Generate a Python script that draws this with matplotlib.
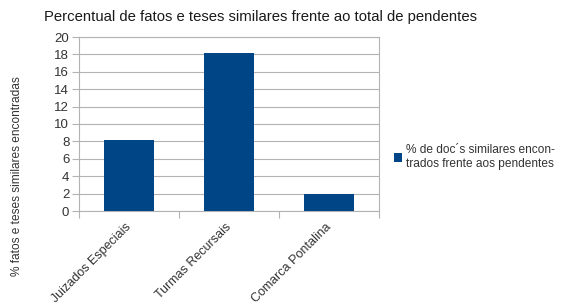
import matplotlib
matplotlib.use("Agg")
import matplotlib.pyplot as plt
import numpy as np

# dados
categorias = ["Juizados Especiais", "Turmas Recursais", "Comarca Pontalina"]
percentuais = [8.2, 18.2, 1.9]
serie_nome = "% de doc´s similares encon-\ntrados frente aos pendentes"
y_ticks = list(range(0, 21, 2))

plt.rcParams['font.family'] = ['Liberation Sans', 'DejaVu Sans']

fig = plt.figure(figsize=(5.71, 3.03), dpi=100)
ax = fig.add_axes([79 / 571, 1 - 211 / 303, 300 / 571, 174 / 303])

x = np.arange(len(categorias))
ax.bar(x, percentuais, width=0.5, color="#004586", zorder=3, label=serie_nome)

ax.set_xlim(-0.5, len(categorias) - 0.5)
ax.set_ylim(0, 20)
ax.set_yticks(y_ticks)
ax.set_yticklabels([str(t) for t in y_ticks], fontsize=9.5, color="#333333")
ax.yaxis.grid(True, color="#b3b3b3", linewidth=0.8, zorder=0)

# ticks nas divisas das categorias
ax.set_xticks(np.arange(-0.5, len(categorias), 1.0))
ax.set_xticklabels([])
ax.tick_params(axis="x", length=5, color="#b3b3b3", width=0.8)
ax.tick_params(axis="y", length=5, color="#b3b3b3", width=0.8, pad=2)
for s in ax.spines.values():
    s.set_color("#b3b3b3")
    s.set_linewidth(0.8)

for i, nome in enumerate(categorias):
    ax.text(i - 0.04, -1.2, nome, rotation=45, ha="right", va="top",
            rotation_mode="anchor", fontsize=9, color="#333333",
            transform=ax.transData, clip_on=False)

fig.text(0.5 * (43 + 477) / 571, 1 - 17 / 303,
         "Percentual de fatos e teses similares frente ao total de pendentes",
         ha="center", va="center", fontsize=10.7, color="#1a1a1a")

fig.text(17 / 571, 1 - 176 / 303, "% fatos e teses similares encontradas",
         rotation=90, ha="center", va="center", fontsize=8.6, color="#333333")

ax.legend(loc="center left", bbox_to_anchor=(388 / 571, 1 - 157 / 303),
          bbox_transform=fig.transFigure, frameon=False, fontsize=8.6,
          handlelength=0.7, handleheight=0.7, handletextpad=0.3,
          borderpad=0, labelcolor="#333333")

fig.savefig("out.png", dpi=100)
